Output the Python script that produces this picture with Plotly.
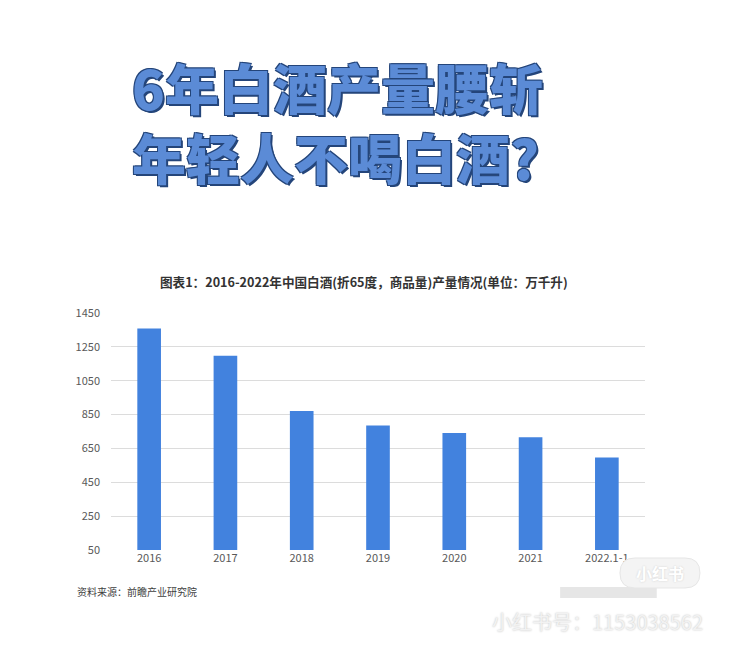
import plotly.graph_objects as go

categories = ["2016", "2017", "2018", "2019", "2020", "2021", "2022.1-11"]
tick_labels = ["2016", "2017", "2018", "2019", "2020", "2021", "2022.1-1"]
production = [1358.4, 1198.1, 871.2, 785.9, 740.7, 715.6, 597.0]
y_ticks = [50, 250, 450, 650, 850, 1050, 1250, 1450]

CJK = "Noto Sans CJK SC"

fig = go.Figure()
fig.add_trace(go.Bar(
    x=categories, y=production,
    marker=dict(color="#4282DE", line=dict(width=0)),
    width=0.31,
    hoverinfo="x+y",
))

fig.update_layout(
    width=735, height=654,
    margin=dict(l=103, r=98, t=305, b=112),
    paper_bgcolor="white", plot_bgcolor="white",
    showlegend=False,
    font=dict(family=CJK, color="#595959", size=11),
    xaxis=dict(
        tickmode="array", tickvals=categories, ticktext=tick_labels,
        showgrid=False, showline=False, ticks="",
        tickfont=dict(size=11, color="#595959"),
    ),
    yaxis=dict(
        range=[50, 1450], tickmode="array", tickvals=y_ticks,
        showgrid=True, gridcolor="#DCDCDC", gridwidth=1,
        zeroline=False, showline=False, ticks="",
        tickfont=dict(size=11, color="#595959"),
        ticklabelstandoff=10,
    ),
)

shadow = "2px 2px 0px #24457a, -1px -1px 0px #24457a, 1px -1px 0px #24457a, -1px 1px 0px #24457a"
fig.add_annotation(
    text="6年白酒产量腰斩<br>年轻人不喝白酒?", xref="paper", yref="paper", x=0.036, y=1.0,
    xanchor="left", yanchor="middle", yshift=192, showarrow=False, align="left",
    font=dict(family=CJK, size=54, color="#5B8BD6", weight=900, shadow=shadow),
)
fig.add_annotation(
    text="图表1：2016-2022年中国白酒(折65度，商品量)产量情况(单位：万千升)",
    xref="paper", yref="paper", x=0.474, y=1.0, yshift=32,
    xanchor="center", yanchor="middle", showarrow=False,
    font=dict(family=CJK, size=12.6, color="#333333", weight="bold"),
)
fig.add_annotation(
    text="资料来源：前瞻产业研究院",
    xref="paper", yref="paper", x=-0.067, y=0.0, yshift=-41,
    xanchor="left", yanchor="middle", showarrow=False,
    font=dict(family=CJK, size=10, color="#404040"),
)

# faint platform watermark: blurred block, pill bubble and id text
fig.add_shape(
    type="rect", xref="paper", yref="paper",
    x0=0.841, x1=1.022, y0=-0.156, y1=-0.203,
    fillcolor="#D6D6D6", opacity=0.6, line=dict(width=0), layer="above",
)
fig.add_shape(
    type="path", xref="paper", yref="paper",
    xsizemode="pixel", ysizemode="pixel", xanchor=1.028, yanchor=-0.097,
    path="M -25,-15 L 25,-15 Q 40,-15 40,0 Q 40,15 25,15 L -25,15 Q -40,15 -40,0 Q -40,-15 -25,-15 Z",
    fillcolor="#F4F4F4", line=dict(color="#E6E6E6", width=1), layer="above",
)
fig.add_annotation(
    text="小红书",
    xref="paper", yref="paper", x=1.028, y=-0.097,
    xanchor="center", yanchor="middle", showarrow=False,
    font=dict(family=CJK, size=16, color="#FFFFFF", weight="bold",
              shadow="0px 0px 2px #CFCFCF"),
)
fig.add_annotation(
    text="小红书号：1153038562",
    xref="paper", yref="paper", x=1.112, y=0.0, yshift=-71,
    xanchor="right", yanchor="middle", showarrow=False,
    font=dict(family=CJK, size=20, color="#F2F2F2", shadow="0px 0px 2px #BDBDBD"),
)

fig.write_html("out.html")
